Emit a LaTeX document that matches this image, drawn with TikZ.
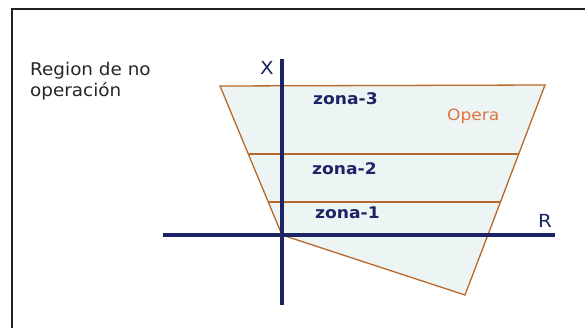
\documentclass[tikz,border=0pt]{standalone}
\usepackage{fontspec}
\setmainfont{DejaVu Sans}
\definecolor{navy}{HTML}{1C2466}
\definecolor{edge}{HTML}{B8692A}
\definecolor{fillc}{HTML}{EDF5F4}
\definecolor{opera}{HTML}{E2713E}
\definecolor{frame}{HTML}{222222}
\begin{document}
\begin{tikzpicture}[x=1pt,y=-1pt,
  axis/.style={navy,line width=3.2pt},
  edgeline/.style={edge,line width=1.3pt},
  zona/.style={font=\fontsize{16}{18}\selectfont\bfseries,text=navy,anchor=west,inner sep=0pt,xscale=1.07},
  axlabel/.style={font=\fontsize{18}{20}\selectfont,text=navy,inner sep=0pt,xscale=1.1}]
\useasboundingbox (0,0) rectangle (585,327);
% frame
\draw[frame,line width=1.6pt] (12,340) -- (12,9) -- (600,9);
% polygon
\coordinate (p1) at (220,86);
\coordinate (p2) at (545,85);
\coordinate (p3) at (465,295);
\coordinate (p4) at (282,235);
\fill[fillc] (p1) -- (p2) -- (p3) -- (p4) -- cycle;
\draw[edgeline,line join=miter] (p1) -- (p2) -- (p3) -- (p4) -- cycle;
\coordinate (a2l) at (248.6,154);
\coordinate (a2r) at (518.7,154);
\coordinate (a1l) at (268.5,202);
\coordinate (a1r) at (500.5,202);
\draw[edgeline] (a2l) -- (a2r);
\draw[edgeline] (a1l) -- (a1r);
% axes
\coordinate (xt) at (282,59);
\coordinate (xb) at (282,305);
\coordinate (rl) at (163,235);
\coordinate (rr) at (555,235);
\draw[axis] (xt) -- (xb);
\draw[axis] (rl) -- (rr);
% labels
\node[axlabel] (xl) at (267,68) {X};
\node[axlabel] (rlab) at (545,221) {R};
\node[zona] (z3) at (313,99) {zona-3};
\node[zona] (z2) at (312,169) {zona-2};
\node[zona] (z1) at (315,213) {zona-1};
\node[font=\fontsize{15.5}{17}\selectfont,text=opera,anchor=west,inner sep=0pt,xscale=1.1] (op) at (447,116) {Opera};
\node[font=\fontsize{17.5}{21}\selectfont,text=black!85,anchor=north west,align=left,inner sep=0pt,xscale=1.05] (reg) at (30,62) {Region de no\\operación};
\end{tikzpicture}
\end{document}
